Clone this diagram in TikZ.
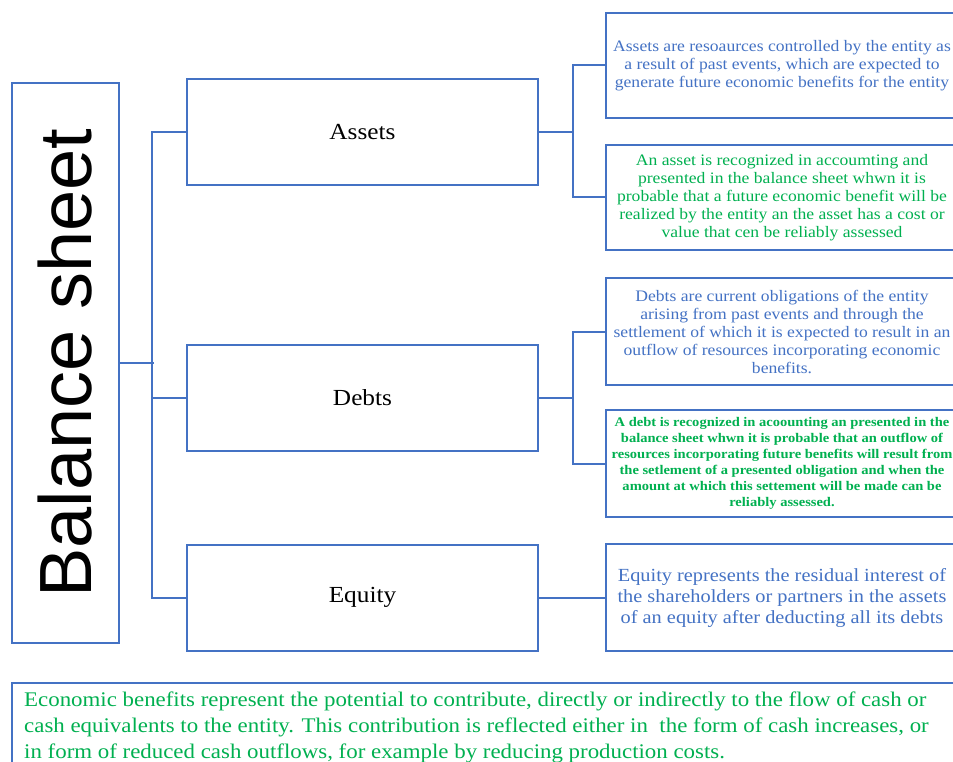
\documentclass[tikz,border=0pt]{standalone}
\usepackage{fontspec}
\setmainfont[FakeStretch=1.1]{Liberation Serif}
\newfontfamily\arialfont{Liberation Sans}
\usetikzlibrary{calc}
\definecolor{boxblue}{HTML}{4472C4}
\definecolor{txtgreen}{HTML}{00B050}

\begin{document}
\begin{tikzpicture}[x=1pt, y=-1pt,
    box/.style={draw=boxblue, line width=2pt, inner sep=0pt, align=center,
        minimum width=351pt, minimum height=106pt},
    descbox/.style={box, minimum width=352pt},
    link/.style={draw=boxblue, line width=2pt},
    bluetext/.style={text=boxblue, font=\fontsize{16}{18}\selectfont},
    greentext/.style={text=txtgreen, font=\fontsize{16}{18}\selectfont}]
    \useasboundingbox[fill=white] (0,0) rectangle (953,762);
    \clip (0,0) rectangle (953,762);

    % main column
    \node[box, minimum width=107pt, minimum height=560pt] (balance) at (65.5,363)
        {\rotatebox{90}{\arialfont\fontsize{74}{74}\selectfont Balance sheet}};
    \node[box, font=\fontsize{23}{26}\selectfont] (assets) at (362.5,132) {Assets};
    \node[box, font=\fontsize{23}{26}\selectfont] (debts) at (362.5,398) {Debts};
    \node[box, font=\fontsize{23}{26}\selectfont] (equity) at (362.5,597.5) {Equity};

    % definitions
    \node[descbox, bluetext, minimum height=105pt] (assetdef) at (782,65.5)
        {Assets are resoaurces controlled by the entity as\\
         a result of past events, which are expected to\\
         generate future economic benefits for the entity};
    \node[descbox, greentext, minimum height=105pt] (assetrec) at (782,197.5)
        {An asset is recognized in accoumting and\\
         presented in the balance sheet whwn it is\\
         probable that a future economic benefit will be\\
         realized by the entity an the asset has a cost or\\
         value that cen be reliably assessed};
    \node[descbox, bluetext, minimum height=107pt] (debtdef) at (782,331.5)
        {Debts are current obligations of the entity\\
         arising from past events and through the\\
         settlement of which it is expected to result in an\\
         outflow of resources incorporating economic\\
         benefits.};
    \node[descbox, text=txtgreen, minimum height=107pt,
        font=\bfseries\fontsize{13.2}{16}\selectfont] (debtrec) at (782,463.5)
        {A debt is recognized in acoounting an presented in the\\
         balance sheet whwn it is probable that an outflow of\\
         resources incorporating future benefits will result from\\
         the setlement of a presented obligation and when the\\
         amount at which this settement will be made can be\\
         reliably assessed.};
    \node[descbox, text=boxblue, minimum height=107pt,
        font=\fontsize{18.5}{21}\selectfont] (equitydef) at (782,597.5)
        {\raisebox{-1pt}{\parbox{340pt}{\centering
         Equity represents the residual interest of\\
         the shareholders or partners in the assets\\
         of an equity after deducting all its debts}}};

    % note at the bottom
    \draw[link] (12,683) rectangle (962,790);
    \node[anchor=north west, align=left, inner sep=0pt, text=txtgreen,
        font=\fontsize{20.8}{26}\selectfont] (note) at (24,692)
        {Economic benefits represent the potential to contribute, directly or indirectly to the flow of cash or\\
         cash equivalents to the entity. This contribution is reflected either in\ \ the form of cash increases, or\\
         in form of reduced cash outflows, for example by reducing production costs.};

    % connectors
    \draw[link] (balance.east) -- ++(34,0);
    \draw[link] (assets.west) -- ++(-34,0) coordinate (trunk) |- (equity.west);
    \draw[link] (debts.west) -- (debts.west -| trunk);
    \draw[link] (assets.east) -- ++(34,0) coordinate (ajoin);
    \draw[link] (assetdef.west) -| (ajoin) |- (assetrec.west);
    \draw[link] (debts.east) -- ++(34,0) coordinate (djoin);
    \draw[link] (debtdef.west) -| (djoin) |- (debtrec.west);
    \draw[link] (equity.east) -- (equitydef.west);
\end{tikzpicture}
\end{document}
